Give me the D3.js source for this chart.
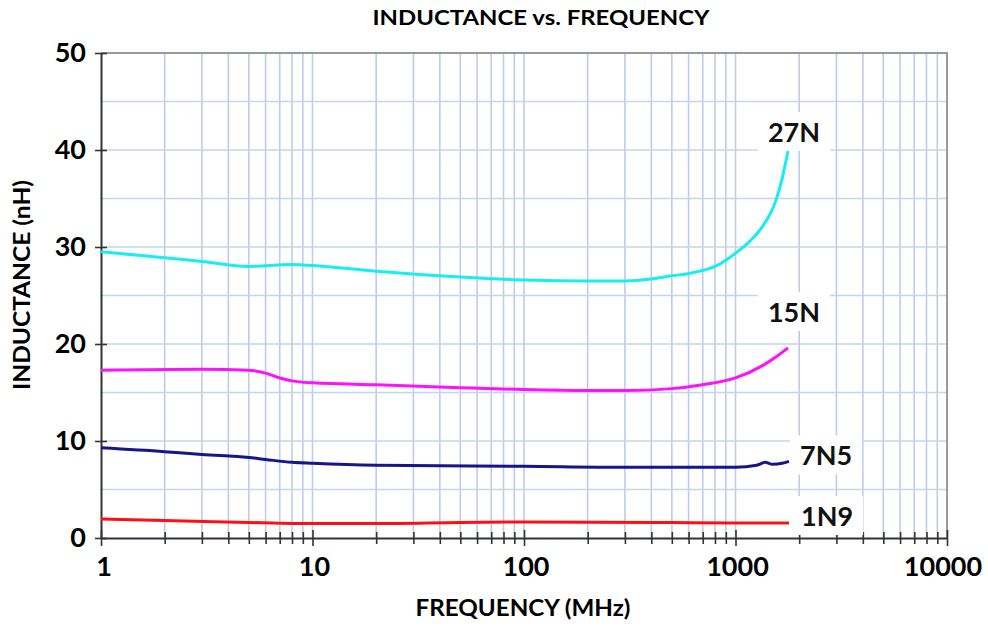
<!DOCTYPE html>
<html>
<head>
<meta charset="utf-8">
<script src="https://cdn.jsdelivr.net/npm/d3@7"></script>
<style>
  body { margin: 0; background: #fff; }
  svg { display: block; font-family: Lato, "Open Sans", sans-serif; font-weight: bold; }
</style>
</head>
<body>
<svg id="chart" width="988" height="628"></svg>
<script>
// values (frequency in MHz, inductance in nH)
var freq27 = [1, 2, 3, 5, 8, 10, 20, 50, 100, 200, 300, 400, 490, 610, 820, 1020, 1170, 1350, 1540, 1660, 1770];
var ind27  = [29.5, 28.9, 28.5, 28.0, 28.2, 28.1, 27.5, 26.9, 26.6, 26.5, 26.5, 26.7, 27.0, 27.3, 28.1, 29.5, 30.6, 32.2, 34.6, 37.0, 39.9];
var freq15 = [1, 3, 5, 6, 7, 8, 10, 20, 50, 100, 200, 300, 500, 700, 1000, 1350, 1540, 1770];
var ind15  = [17.3, 17.4, 17.3, 17.0, 16.5, 16.2, 16.0, 15.8, 15.5, 15.3, 15.2, 15.2, 15.4, 15.8, 16.5, 17.8, 18.6, 19.6];
var freq7n5 = [1, 2, 3, 5, 6, 8, 10, 20, 100, 300, 1000, 1260, 1380, 1500, 1660, 1790];
var ind7n5  = [9.3, 8.9, 8.6, 8.3, 8.1, 7.8, 7.7, 7.5, 7.4, 7.3, 7.3, 7.5, 7.8, 7.6, 7.7, 7.9];
var freq1n9 = [1, 2, 5, 8, 20, 50, 100, 500, 1000, 1790];
var ind1n9  = [1.95, 1.8, 1.6, 1.5, 1.5, 1.6, 1.65, 1.6, 1.55, 1.55];

var seriesNames = ['27N', '15N', '7N5', '1N9'];
var xTickLabels = ['1', '10', '100', '1000', '10000'];
var yTickLabels = ['0', '10', '20', '30', '40', '50'];

var series = [
  {name: seriesNames[0], f: freq27, v: ind27, color: '#16eef2', dx: 6, dy: -9, anchor: 'middle'},
  {name: seriesNames[1], f: freq15, v: ind15, color: '#ff10ff', dx: 6, dy: -26, anchor: 'middle'},
  {name: seriesNames[2], f: freq7n5, v: ind7n5, color: '#14168a', dx: 11, dy: 4, anchor: 'start'},
  {name: seriesNames[3], f: freq1n9, v: ind1n9, color: '#ff1010', dx: 12, dy: 3, anchor: 'start'}
];

var svg = d3.select('#chart');
var pl = 101, pr = 947, pt = 53, pb = 538;

var x = d3.scaleLog().domain([1, 10000]).range([pl, pr]);
var y = d3.scaleLinear().domain([0, 50]).range([pb, pt]);

// minor positions 1..9 per decade
var minorVals = [];
for (var d = 1; d < 10000; d *= 10) {
  for (var k = 1; k < 10; k++) minorVals.push(d * k);
}
minorVals.push(10000);

var grid = svg.append('g');
grid.selectAll('.vg')
  .data(minorVals.filter(function(v){ return v > 1; }))
  .enter().append('line')
  .attr('x1', function(v){ return x(v); }).attr('x2', function(v){ return x(v); })
  .attr('y1', pt).attr('y2', pb)
  .attr('stroke', '#bccdea').attr('stroke-width', 1.6);
grid.selectAll('.hg')
  .data(d3.range(5, 50, 5))
  .enter().append('line')
  .attr('x1', pl).attr('x2', pr)
  .attr('y1', function(v){ return y(v); }).attr('y2', function(v){ return y(v); })
  .attr('stroke', '#c4d3ee').attr('stroke-width', 1.6);

// frame top / right
svg.append('path')
  .attr('d', 'M' + pl + ',' + pt + 'H' + pr + 'V' + pb)
  .attr('fill', 'none').attr('stroke', '#9a9a9a').attr('stroke-width', 2);

// bottom axis
var xAxis = d3.axisBottom(x).tickValues(minorVals).tickSize(0).tickFormat('');
var gx = svg.append('g').attr('transform', 'translate(0,' + pb + ')').call(xAxis);
gx.select('.domain').attr('stroke', '#333').attr('stroke-width', 2);
gx.selectAll('.tick').append('line')
  .attr('y1', function(v){ return xTickLabels.indexOf(String(v)) >= 0 ? -8 : -6; })
  .attr('y2', function(v){ return xTickLabels.indexOf(String(v)) >= 0 ? 8 : 6; })
  .attr('stroke', '#333').attr('stroke-width', 1.6);
svg.append('g').selectAll('text')
  .data(xTickLabels)
  .enter().append('text')
  .attr('x', function(t){ return x(+t) + (t === '1' ? 3 : t === '10000' ? -4 : 2); })
  .attr('y', 576)
  .attr('text-anchor', 'middle')
  .attr('font-size', 27)
  .text(function(t){ return t; });

// left axis
var yAxis = d3.axisLeft(y).tickValues(yTickLabels.map(Number)).tickSize(0).tickFormat('');
var gy = svg.append('g').attr('transform', 'translate(' + pl + ',0)').call(yAxis);
gy.select('.domain').attr('stroke', '#333').attr('stroke-width', 2);
gy.selectAll('.tick').append('line')
  .attr('x1', -6).attr('x2', 6)
  .attr('stroke', '#333').attr('stroke-width', 1.6);
svg.append('g').selectAll('text')
  .data(yTickLabels)
  .enter().append('text')
  .attr('x', 86)
  .attr('y', function(t){ return y(+t) + 9; })
  .attr('text-anchor', 'end')
  .attr('font-size', 27)
  .text(function(t){ return t; });

// curves
var line = d3.line()
  .x(function(p){ return x(p[0]); })
  .y(function(p){ return y(p[1]); })
  .curve(d3.curveMonotoneX);

series.forEach(function(s){
  var pts = s.f.map(function(f, i){ return [f, s.v[i]]; });
  svg.append('path')
    .datum(pts)
    .attr('d', line)
    .attr('fill', 'none')
    .attr('stroke', s.color)
    .attr('stroke-width', 3)
    .attr('stroke-linejoin', 'round');
});

// series labels on white boxes
series.forEach(function(s){
  var n = s.f.length - 1;
  var lx = x(s.f[n]) + s.dx, ly = y(s.v[n]) + s.dy;
  var g = svg.append('g');
  var t = g.append('text')
    .attr('x', lx).attr('y', ly)
    .attr('text-anchor', s.anchor)
    .attr('font-size', 27)
    .attr('fill', '#111')
    .text(s.name);
  var bb = t.node().getBBox();
  g.insert('rect', 'text')
    .attr('x', bb.x - 10).attr('y', bb.y - 3)
    .attr('width', bb.width + 20).attr('height', bb.height + 6)
    .attr('fill', '#fff');
});

// titles
svg.append('text')
  .attr('x', 541).attr('y', 25)
  .attr('text-anchor', 'middle')
  .attr('font-size', 21)
  .attr('textLength', 337).attr('lengthAdjust', 'spacingAndGlyphs')
  .text('INDUCTANCE vs. FREQUENCY');
svg.append('text')
  .attr('x', 523).attr('y', 616)
  .attr('text-anchor', 'middle')
  .attr('font-size', 22)
  .attr('textLength', 215).attr('lengthAdjust', 'spacingAndGlyphs')
  .text('FREQUENCY (MHz)');
svg.append('text')
  .attr('transform', 'translate(30,285) rotate(-90)')
  .attr('text-anchor', 'middle')
  .attr('font-size', 22)
  .attr('textLength', 210).attr('lengthAdjust', 'spacingAndGlyphs')
  .text('INDUCTANCE (nH)');
</script>
</body>
</html>
